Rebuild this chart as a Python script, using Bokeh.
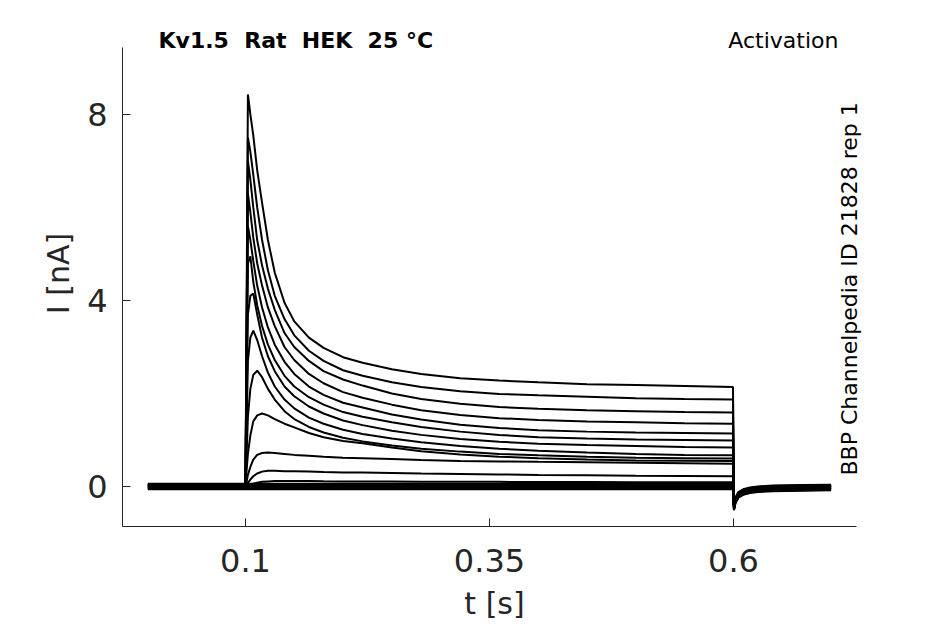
import math
from bokeh.plotting import figure
from bokeh.models import Range1d, Label, FixedTicker
from bokeh.embed import file_html
from bokeh.resources import INLINE

# ---------------- data ----------------
TITLE = "Kv1.5 \u00a0Rat \u00a0HEK \u00a025 °C"
PROTOCOL = "Activation"
SOURCE = "BBP Channelpedia ID 21828 rep 1"

X_TICKS = [0.1, 0.35, 0.6]
Y_TICKS = [0, 4, 8]

# time points [s]
T_PRE = [0.0, 0.0995, 0.1]
T_STEP = [0.1025, 0.105, 0.108, 0.112, 0.117, 0.123, 0.13, 0.14, 0.15, 0.165,
          0.18, 0.2, 0.22, 0.25, 0.28, 0.32, 0.36, 0.4, 0.45, 0.5, 0.55, 0.5995]
T_TAIL = [0.6005, 0.602, 0.605, 0.61, 0.617, 0.625, 0.64, 0.67, 0.7]
I_TAIL = [-0.45, -0.3, -0.18, -0.12, -0.08, -0.06, -0.04, -0.03, -0.02]

# current during the step [nA], one list per sweep
SWEEPS = [
    [8.43, 8.0, 7.55, 6.8, 6.1, 5.3, 4.6, 3.95, 3.55, 3.2, 2.98, 2.78, 2.66, 2.52, 2.42, 2.33, 2.28, 2.24, 2.2, 2.18, 2.16, 2.14],
    [7.5, 7.2, 6.7, 6.0, 5.3, 4.65, 4.1, 3.6, 3.25, 2.92, 2.7, 2.5, 2.38, 2.24, 2.14, 2.05, 1.99, 1.96, 1.93, 1.9, 1.88, 1.87],
    [7.0, 6.6, 6.0, 5.3, 4.75, 4.25, 3.8, 3.3, 3.0, 2.7, 2.48, 2.3, 2.17, 2.0, 1.88, 1.78, 1.71, 1.67, 1.64, 1.62, 1.6, 1.59],
    [6.3, 5.9, 5.35, 4.8, 4.32, 3.85, 3.45, 3.0, 2.72, 2.42, 2.22, 2.03, 1.91, 1.76, 1.64, 1.54, 1.47, 1.43, 1.4, 1.38, 1.36, 1.35],
    [5.6, 5.3, 4.85, 4.32, 3.85, 3.42, 3.05, 2.68, 2.42, 2.15, 1.97, 1.8, 1.7, 1.55, 1.44, 1.33, 1.26, 1.21, 1.18, 1.16, 1.15, 1.14],
    [4.8, 4.95, 4.4, 3.9, 3.45, 3.05, 2.72, 2.38, 2.15, 1.92, 1.76, 1.6, 1.5, 1.38, 1.28, 1.18, 1.11, 1.06, 1.03, 1.01, 1.0, 0.99],
    [3.7, 4.1, 4.15, 3.7, 3.2, 2.8, 2.48, 2.15, 1.94, 1.72, 1.57, 1.42, 1.32, 1.2, 1.11, 1.02, 0.96, 0.92, 0.89, 0.87, 0.85, 0.84],
    [2.7, 3.2, 3.35, 3.15, 2.8, 2.45, 2.15, 1.87, 1.68, 1.48, 1.35, 1.22, 1.13, 1.03, 0.95, 0.87, 0.81, 0.77, 0.73, 0.7, 0.68, 0.67],
    [1.5, 2.1, 2.4, 2.49, 2.35, 2.1, 1.87, 1.62, 1.45, 1.28, 1.16, 1.05, 0.97, 0.88, 0.81, 0.75, 0.7, 0.67, 0.64, 0.62, 0.61, 0.6],
    [0.7, 1.1, 1.4, 1.53, 1.57, 1.53, 1.45, 1.35, 1.27, 1.15, 1.06, 0.98, 0.93, 0.84, 0.76, 0.69, 0.64, 0.61, 0.58, 0.56, 0.555, 0.55],
    [0.25, 0.42, 0.58, 0.68, 0.72, 0.73, 0.72, 0.7, 0.68, 0.66, 0.64, 0.62, 0.61, 0.59, 0.57, 0.55, 0.54, 0.53, 0.52, 0.51, 0.5, 0.49],
    [0.08, 0.15, 0.22, 0.28, 0.32, 0.34, 0.34, 0.33, 0.33, 0.32, 0.31, 0.3, 0.3, 0.29, 0.28, 0.27, 0.26, 0.25, 0.24, 0.23, 0.225, 0.22],
    [0.02, 0.04, 0.06, 0.08, 0.1, 0.11, 0.12, 0.12, 0.12, 0.12, 0.115, 0.11, 0.11, 0.11, 0.1, 0.1, 0.1, 0.095, 0.095, 0.09, 0.09, 0.09],
    [0.06] * 22,
    [0.03] * 22,
    [0.0] * 22,
    [-0.03] * 22,
    [-0.06] * 22,
]
# holding-level offset of each sweep before the step [nA]
BASE = [0.03, -0.02, 0.0, 0.05, -0.04, 0.01, -0.05, 0.02, -0.01, 0.04, -0.03, 0.0, 0.03,
        0.06, 0.03, 0.0, -0.03, -0.06]

# axis extents (the drawn spines)
X_BOUNDS = (-0.026, 0.726)
Y_BOUNDS = (-0.86, 9.44)

# ---------------- figure ----------------
FONT = "DejaVu Sans"
INK = "#262626"

p = figure(width=930, height=624, output_backend="svg", toolbar_location=None,
           x_range=Range1d(-0.026, 0.7363), y_range=Range1d(-0.86, 10.02),
           min_border_left=122, min_border_right=64, min_border_top=20, min_border_bottom=98)
p.outline_line_color = None
p.grid.visible = False
p.background_fill_color = "white"
p.border_fill_color = "white"

for sweep, b in zip(SWEEPS, BASE):
    xs = T_PRE + T_STEP + T_TAIL
    ys = [b, b, b] + sweep + [b + v for v in I_TAIL]
    p.line(xs, ys, line_color="black", line_width=2.0)

for ax in (p.xaxis[0], p.yaxis[0]):
    ax.axis_line_color = INK
    ax.axis_line_width = 1
    ax.major_tick_line_color = INK
    ax.major_tick_in = 8
    ax.major_tick_out = 0
    ax.minor_tick_line_color = None
    ax.major_label_text_font = FONT
    ax.major_label_text_font_size = "32px"
    ax.major_label_text_color = INK
    ax.axis_label_text_font = FONT
    ax.axis_label_text_font_size = "30px"
    ax.axis_label_text_font_style = "normal"
    ax.axis_label_text_color = INK

p.xaxis.bounds = X_BOUNDS
p.yaxis.bounds = Y_BOUNDS
p.xaxis.ticker = FixedTicker(ticks=X_TICKS)
p.yaxis.ticker = FixedTicker(ticks=Y_TICKS)
p.xaxis.major_label_overrides = {0.1: "0.1", 0.35: "0.35", 0.6: "0.6"}
p.xaxis.axis_label = "t [s]"
p.yaxis.axis_label = "I [nA]"
p.xaxis.major_label_standoff = 22
p.xaxis.axis_label_standoff = 11
p.yaxis.major_label_standoff = 15
p.yaxis.axis_label_standoff = 8

p.add_layout(Label(x=0.0109, y=9.59, text=TITLE, text_font=FONT, text_font_size="22px",
                   text_font_style="bold", text_color="black",
                   text_align="left", text_baseline="middle"))
p.add_layout(Label(x=0.7076, y=9.59, text=PROTOCOL, text_font=FONT, text_font_size="22px",
                   text_color="black", text_align="right", text_baseline="middle"))
p.add_layout(Label(x=0.7189, y=4.25, text=SOURCE, text_font=FONT, text_font_size="22px",
                   text_color="black", angle=math.pi / 2,
                   text_align="center", text_baseline="middle"))

open("out.html", "w").write(file_html(p, INLINE))
